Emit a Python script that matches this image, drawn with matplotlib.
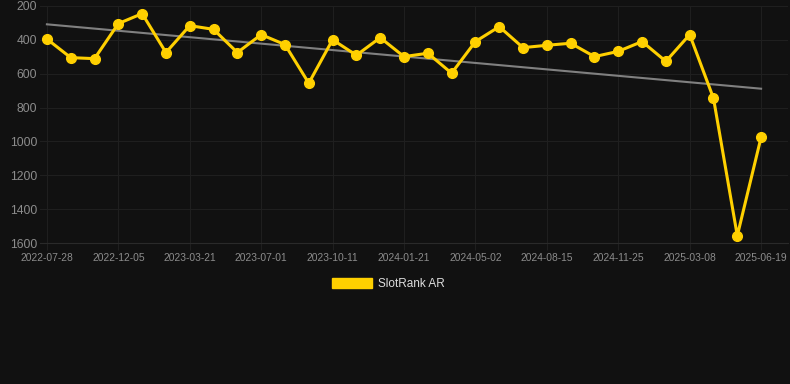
import matplotlib
matplotlib.use('Agg')
from matplotlib import pyplot as plt
from matplotlib.patches import Patch
import numpy as np

plt.rcParams['font.family'] = ['Liberation Sans', 'DejaVu Sans']

tick_labels = ['2022-07-28', '2022-12-05', '2023-03-21', '2023-07-01', '2023-10-11',
               '2024-01-21', '2024-05-02', '2024-08-15', '2024-11-25', '2025-03-08',
               '2025-06-19']
ranks = [395, 505, 511, 304, 245, 475, 316, 338, 475, 369, 428,
         656, 399, 491, 387, 499, 479, 597, 410, 322, 446,
         432, 420, 499, 468, 410, 527, 369, 745, 1557, 975]
series_name = 'SlotRank AR'

bg = '#111111'
yellow = '#ffd000'

x = np.arange(len(ranks))
fig = plt.figure(figsize=(7.9, 3.84), dpi=100, facecolor=bg)
ax = fig.add_axes([40/790, 1-243/384, 748/790, 237/384], facecolor=bg)

# trend line (least squares)
k, b = np.polyfit(x, ranks, 1)
ax.plot(x, k*x + b, color='#808080', lw=1.5, zorder=2)
ax.plot(x, ranks, color=yellow, lw=2.2, marker='o', ms=7, zorder=3)

ax.set_ylim(1600, 200)
ax.set_yticks(range(200, 1601, 200))
ax.set_xlim(-0.29, 31.13)
ax.set_xticks(x[::3])
ax.set_xticklabels(tick_labels)
ax.grid(True, color='#1f1f1f', lw=0.8)
for s in ax.spines.values():
    s.set_visible(False)
ax.spines['bottom'].set_visible(True)
ax.spines['bottom'].set_color('#2a2a2a')
ax.tick_params(axis='y', colors='#8c8c8c', labelsize=8.7, length=0, pad=2)
ax.tick_params(axis='x', colors='#8c8c8c', labelsize=7.4, length=5, pad=2, color='#1f1f1f')

fig.legend(handles=[Patch(color=yellow, label=series_name)], loc='center',
           bbox_to_anchor=(0.492, 1-284/384), frameon=False, fontsize=8.5,
           labelcolor='#dddddd', handlelength=3.4, handleheight=1.0, handletextpad=0.5)

fig.savefig('out.png', dpi=100, facecolor=bg)
